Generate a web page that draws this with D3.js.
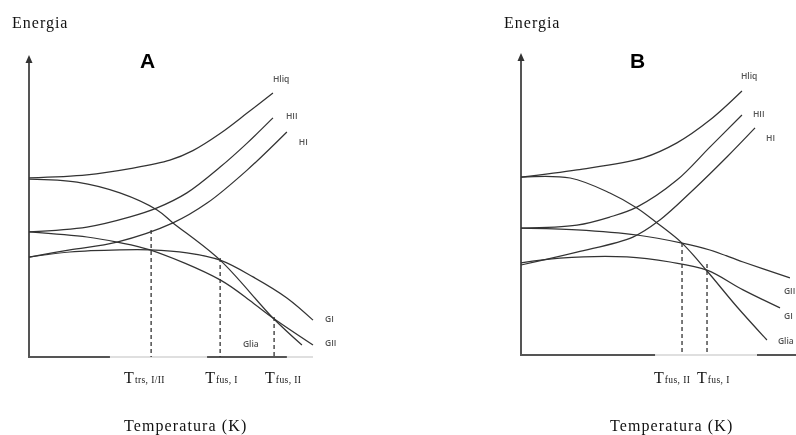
<!DOCTYPE html>
<html>
<head>
<meta charset="utf-8">
<script src="https://cdn.jsdelivr.net/npm/d3@7"></script>
<style>
body{margin:0;background:#fff;}
svg{display:block;will-change:transform;}
</style>
</head>
<body>
<svg id="chart"></svg>
<script>

// CURVE POINTS [temperature, energy] (ARBITRARY UNITS 0-100)
var A_Hliq = [[0,59.7],[20.4,60.7],[35.6,62.8],[49.6,65.6],[57.7,68.8],[67.3,74.5],[76.8,81.3],[85.9,88]];
var A_HII  = [[0,41.7],[20.4,43.3],[35.6,46.7],[45.1,49.7],[55.6,54.7],[67.3,63.3],[76.8,71.3],[85.9,79.7]];
var A_HI   = [[0,33.3],[14.4,35.7],[31,38.3],[50.7,44.7],[62.7,51.3],[76.8,62.3],[90.8,75]];
var A_Gliq = [[0,59.3],[16.9,58.3],[32,54.7],[45.1,49],[50.7,44.7],[67.3,32.3],[85.9,13],[96.1,4]];
var A_GII  = [[0,41.7],[20.4,40],[31,38.3],[42.6,35.7],[67.3,25.7],[78.9,18],[85.9,13],[100,4]];
var A_GI   = [[0,33.3],[14.4,35],[32,35.7],[42.6,35.7],[55.6,34.7],[67.3,32.3],[78.9,26.7],[90.8,19.7],[100,12.3]];

var B_Hliq = [[0,59.3],[19.7,61.7],[43,65.7],[54.9,70.7],[66.5,78.3],[77.8,88]];
var B_HII  = [[0,42.3],[19.7,43.3],[31.3,46],[40.8,49.3],[54.9,58.3],[66.5,69.3],[77.8,80]];
var B_HI   = [[0,30],[19.7,34.3],[39.4,39.3],[48.9,45],[60.6,55],[72.5,66],[82.4,75.7]];
var B_Gliq = [[0,59.3],[17.3,59],[31.3,54],[40.8,49],[47.9,44],[56.7,37.3],[65.5,28],[76.1,16],[86.6,5]];
var B_GII  = [[0,42.3],[19.7,41.7],[40.8,40],[56.7,37.3],[66.5,35],[78.2,31],[94.7,25.7]];
var B_GI   = [[0,30.7],[13.7,32.3],[37.3,32.7],[52.5,31],[65.5,28.3],[78.2,21.7],[91.2,15.7]];

var curve_labels = ["Hliq","HII","HI","Glia","GII","GI"];

// DASHED TEMPERATURES (x) AND THE ENERGY WHERE EACH DASHED LINE STARTS
var A_marks = [43, 67.3, 86.3];
var A_mark_tops = [42.3, 33, 13.3];
var A_mark_subs = ["trs, I/II", "fus, I", "fus, II"];

var B_marks = [56.7, 65.5];
var B_mark_tops = [37.3, 30.3];
var B_mark_subs = ["fus, II", "fus, I"];

// DARK PARTS OF THE TEMPERATURE AXIS
var A_axis_dark = [[0,28.5],[62.7,90.8]];
var B_axis_dark = [[0,47.2],[83.1,100]];

var panel_titles = ["A", "B"];
var y_title = "Energia";
var x_title = "Temperatura (K)";

var width = 796,
    height = 435;

var svg = d3.select('#chart')
            .attr("width", width)
            .attr("height", height);

svg.selectAll("*").remove();

function draw_panel(p){

    var x = d3.scaleLinear().domain([0,100]).range([p.left, p.left+284]);
    var y = d3.scaleLinear().domain([0,100]).range([p.bottom, p.bottom-300]);

    var g = svg.append("g");

    // Y TITLE
    g.append("text")
        .attr("x", p.left-17)
        .attr("y", 28)
        .attr("font-family", "Liberation Serif")
        .attr("font-size", 16)
        .attr("letter-spacing", 1)
        .attr("fill", "#111")
        .text(y_title);

    // PANEL LETTER
    g.append("text")
        .attr("x", p.titleX)
        .attr("y", 68)
        .attr("font-family", "Liberation Sans")
        .attr("font-weight", "bold")
        .attr("font-size", 21)
        .attr("fill", "#000")
        .text(p.title);

    // X AXIS: LIGHT FULL LINE, THEN DARK PARTS
    g.append("line")
        .attr("x1", x(0)).attr("x2", Math.min(x(100), width))
        .attr("y1", y(0)).attr("y2", y(0))
        .attr("stroke", "#d4d4d4")
        .attr("stroke-width", 1.5);

    g.selectAll(".axis_dark")
        .data(p.dark)
        .enter()
        .append("line")
        .attr("x1", function(d){ return x(d[0]); })
        .attr("x2", function(d){ return x(d[1]); })
        .attr("y1", y(0)).attr("y2", y(0))
        .attr("stroke", "#555")
        .attr("stroke-width", 2.2);

    // Y AXIS WITH ARROW
    g.append("line")
        .attr("x1", x(0)).attr("x2", x(0))
        .attr("y1", y(0)+1).attr("y2", y(100)+4)
        .attr("stroke", "#555")
        .attr("stroke-width", 2);

    g.append("path")
        .attr("d", "M" + (x(0)-3.5) + "," + (y(100)+6) + "L" + x(0) + "," + (y(100)-2) + "L" + (x(0)+3.5) + "," + (y(100)+6) + "Z")
        .attr("fill", "#333");

    // DASHED LINES
    g.selectAll(".mark")
        .data(p.marks)
        .enter()
        .append("line")
        .attr("x1", function(d){ return x(d); })
        .attr("x2", function(d){ return x(d); })
        .attr("y1", function(d,i){ return y(p.tops[i]); })
        .attr("y2", y(0))
        .attr("stroke", "#333")
        .attr("stroke-width", 1.3)
        .attr("stroke-dasharray", "4,3");

    // CURVES
    var line = d3.line()
        .x(function(d){ return x(d[0]); })
        .y(function(d){ return y(d[1]); })
        .curve(d3.curveCatmullRom.alpha(0.5));

    g.selectAll(".curve")
        .data(p.curves)
        .enter()
        .append("path")
        .attr("d", line)
        .attr("fill", "none")
        .attr("stroke", "#333")
        .attr("stroke-width", 1.25);

    // CURVE LABELS NEAR THE END OF EACH CURVE
    g.selectAll(".curve_label")
        .data(p.curves)
        .enter()
        .append("text")
        .attr("x", function(d,i){ return x(d[d.length-1][0]) + p.labelOff[i][0]; })
        .attr("y", function(d,i){ return y(d[d.length-1][1]) + p.labelOff[i][1]; })
        .attr("dominant-baseline", "middle")
        .attr("font-family", "Open Sans")
        .attr("font-weight", 600)
        .attr("font-size", 8.5)
        .attr("fill", "#555")
        .text(function(d,i){ return curve_labels[i]; });

    // TEMPERATURE LABELS UNDER THE AXIS
    var tl = g.selectAll(".tlabel")
        .data(p.marks)
        .enter()
        .append("text")
        .attr("x", function(d,i){ return x(d) + p.tOff[i]; })
        .attr("y", 383)
        .attr("font-family", "Liberation Serif")
        .attr("fill", "#111");

    tl.append("tspan")
        .attr("font-size", 16)
        .text("T");

    tl.append("tspan")
        .attr("font-size", 9.5)
        .attr("dx", 1)
        .attr("letter-spacing", 0.4)
        .text(function(d,i){ return p.subs[i]; });

    // X TITLE
    g.append("text")
        .attr("x", p.xTitleX)
        .attr("y", 431)
        .attr("font-family", "Liberation Serif")
        .attr("font-size", 16)
        .attr("letter-spacing", 1.1)
        .attr("fill", "#111")
        .text(x_title);
}

draw_panel({
    left: 29, bottom: 357, title: panel_titles[0], titleX: 140, xTitleX: 124,
    curves: [A_Hliq, A_HII, A_HI, A_Gliq, A_GII, A_GI],
    labelOff: [[0,-13],[13,-1],[12,11],[-59,0],[12,-1],[12,0]],
    marks: A_marks, tops: A_mark_tops, subs: A_mark_subs, tOff: [-27,-15,-9],
    dark: A_axis_dark
});

draw_panel({
    left: 521, bottom: 355, title: panel_titles[1], titleX: 630, xTitleX: 610,
    curves: [B_Hliq, B_HII, B_HI, B_Gliq, B_GII, B_GI],
    labelOff: [[-1,-14],[11,0],[11,11],[11,2],[-6,14],[4,9]],
    marks: B_marks, tops: B_mark_tops, subs: B_mark_subs, tOff: [-28,-10],
    dark: B_axis_dark
});

</script>
</body>
</html>
